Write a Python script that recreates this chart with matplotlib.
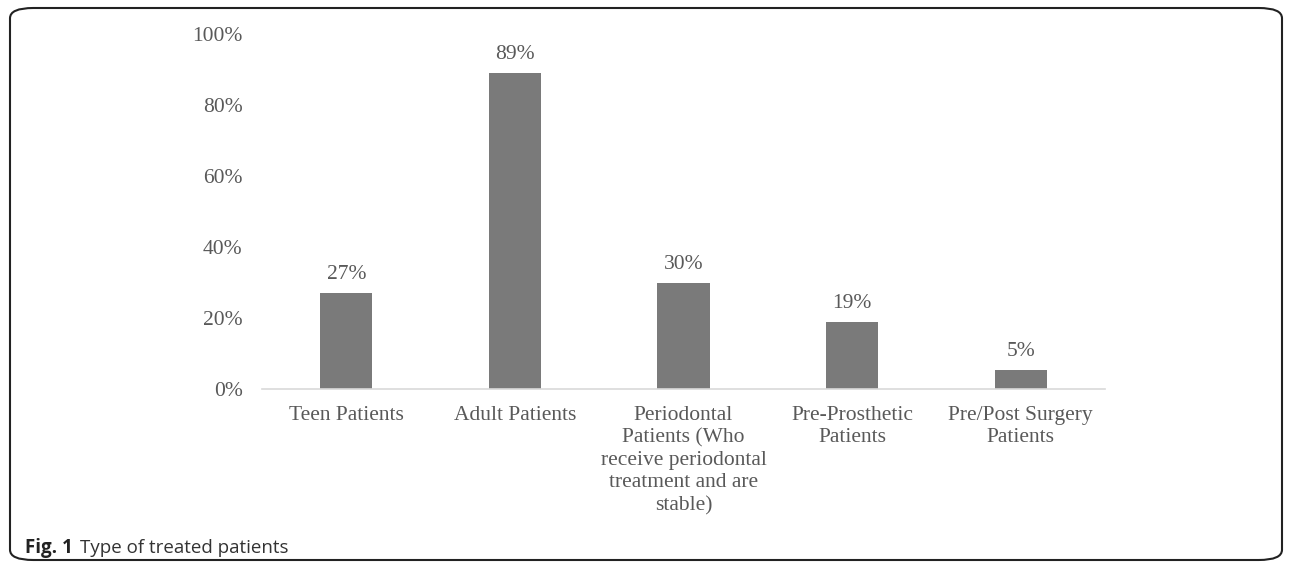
import matplotlib
matplotlib.use("Agg")
import matplotlib.pyplot as plt
from matplotlib.patches import FancyBboxPatch

categories = ["Teen Patients", "Adult Patients",
              "Periodontal\nPatients (Who\nreceive periodontal\ntreatment and are\nstable)",
              "Pre-Prosthetic\nPatients", "Pre/Post Surgery\nPatients"]
values = [0.27, 0.89, 0.30, 0.19, 0.054]
labels = ["27%", "89%", "30%", "19%", "5%"]
yticks = [0, 0.2, 0.4, 0.6, 0.8, 1.0]
ytick_labels = ["0%", "20%", "40%", "60%", "80%", "100%"]

serif = "Liberation Serif"
txt = "#595959"
fs = 15.5

fig = plt.figure(figsize=(12.92, 5.67), dpi=100)
ax = fig.add_axes([262 / 1292, 1 - 389 / 567, 843 / 1292, 355 / 567])

x = range(len(categories))
ax.bar(x, values, width=0.31, color="#7a7a7a", zorder=2)
for i, (v, l) in enumerate(zip(values, labels)):
    ax.text(i, v + 0.025, l, ha="center", va="bottom", fontsize=fs,
            family=serif, color=txt)

ax.set_xlim(-0.5, len(categories) - 0.5)
ax.set_ylim(0, 1.0)
ax.set_yticks(yticks)
ax.set_yticklabels(ytick_labels, family=serif, fontsize=fs, color=txt)
ax.set_xticks(list(x))
ax.set_xticklabels(categories, family=serif, fontsize=fs, color=txt, linespacing=1.25)
ax.tick_params(axis="both", length=0)
ax.tick_params(axis="y", pad=14)
ax.tick_params(axis="x", pad=12)
for s in ["top", "right", "left"]:
    ax.spines[s].set_visible(False)
ax.spines["bottom"].set_color("#d9d9d9")
ax.spines["bottom"].set_linewidth(1.2)

# frame round the figure
box = FancyBboxPatch((10 / 1292, 7 / 567), 1272 / 1292, 552 / 567,
                     boxstyle="round,pad=0,rounding_size=0.018",
                     transform=fig.transFigure, fill=False,
                     edgecolor="#222222", linewidth=1.5)
fig.add_artist(box)

fig.text(25 / 1292, 1 - 548 / 567, "Fig. 1", fontsize=13.5, family="Open Sans",
         weight="bold", va="center", ha="left", color="#222222")
fig.text(80 / 1292, 1 - 548 / 567, "Type of treated patients", fontsize=13.5,
         family="Open Sans", va="center", ha="left", color="#333333")

fig.savefig("out.png", dpi=100)
